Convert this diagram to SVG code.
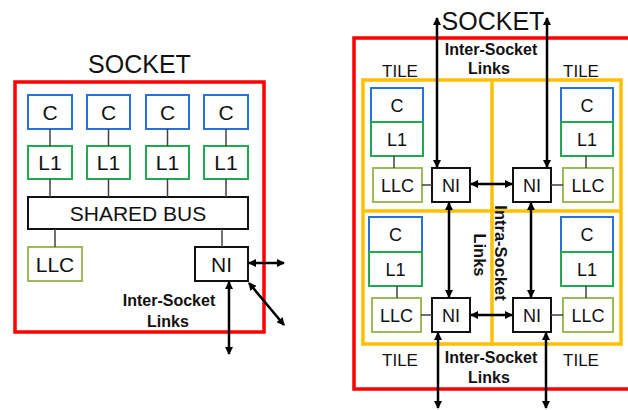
<svg xmlns="http://www.w3.org/2000/svg" width="628" height="410" viewBox="0 0 628 410">
<style>
text{font-family:"Liberation Sans",Arial,sans-serif;fill:#111;text-anchor:middle}
.title{font-size:25px}
.lbl{font-size:21px}
.lbs{font-size:18px}
.bold{font-size:16px;font-weight:bold}
.tile{font-size:17px}
.sock{fill:none;stroke:#FF0000;stroke-width:3.5}
.cb{fill:#fff;stroke:#2573D8;stroke-width:2}
.l1{fill:#fff;stroke:#22A84F;stroke-width:2}
.llc{fill:#fff;stroke:#9BBB59;stroke-width:2}
.ni{fill:#fff;stroke:#111;stroke-width:2}
.bus{fill:#fff;stroke:#111;stroke-width:2}
.yel{fill:none;stroke:#FFC000;stroke-width:3.5}
.wire{stroke:#404040;stroke-width:1.5;fill:none}
.arr{stroke:#000;stroke-width:2.5;fill:none;marker-start:url(#ah);marker-end:url(#ah)}
</style>
<defs>
<marker id="ah" markerWidth="8" markerHeight="8" refX="7" refY="4" orient="auto-start-reverse" markerUnits="userSpaceOnUse"><path d="M0,0 L8,4 L0,8 z" fill="#000"/></marker>
</defs>
<rect width="628" height="410" fill="#fff"/>

<!-- LEFT SOCKET -->
<g id="left-socket">
<rect class="sock" x="15" y="82" width="249" height="250"/>
<text class="title" x="139.5" y="73">SOCKET</text>
</g>
<g id="l-c1"><rect class="cb" x="28" y="95" width="44" height="34"/><text class="lbl" x="50" y="119.5">C</text></g>
<g id="l-c2"><rect class="cb" x="87" y="95" width="43" height="34"/><text class="lbl" x="108.5" y="119.5">C</text></g>
<g id="l-c3"><rect class="cb" x="146" y="95" width="43" height="34"/><text class="lbl" x="167.5" y="119.5">C</text></g>
<g id="l-c4"><rect class="cb" x="204" y="95" width="44" height="34"/><text class="lbl" x="226" y="119.5">C</text></g>
<g id="l-l1a"><rect class="l1" x="28" y="146" width="44" height="33"/><text class="lbl" x="50" y="170">L1</text></g>
<g id="l-l1b"><rect class="l1" x="87" y="146" width="43" height="33"/><text class="lbl" x="108.5" y="170">L1</text></g>
<g id="l-l1c"><rect class="l1" x="146" y="146" width="43" height="33"/><text class="lbl" x="167.5" y="170">L1</text></g>
<g id="l-l1d"><rect class="l1" x="204" y="146" width="44" height="33"/><text class="lbl" x="226" y="170">L1</text></g>
<g id="l-bus"><rect class="bus" x="28" y="197" width="220" height="32"/><text class="lbl" x="138" y="220.5">SHARED BUS</text></g>
<g id="l-llc"><rect class="llc" x="28" y="247" width="54" height="34"/><text class="lbl" x="55" y="271.5">LLC</text></g>
<g id="l-ni"><rect class="ni" x="195" y="247" width="53" height="34"/><text class="lbl" x="221.5" y="271.5">NI</text></g>
<g id="l-links-label">
<text class="bold" x="169" y="306">Inter-Socket</text>
<text class="bold" x="168" y="327">Links</text>
</g>

<!-- RIGHT SOCKET -->
<g id="right-socket">
<rect class="sock" x="354" y="38" width="300" height="351"/>
<text class="title" x="493" y="30">SOCKET</text>
</g>
<g id="tiles">
<rect class="yel" x="363" y="80" width="258" height="264"/>
<line class="yel" x1="492" y1="80" x2="492" y2="344"/>
<line class="yel" x1="363" y1="211" x2="621" y2="211"/>
<text class="tile" x="400" y="77">TILE</text>
<text class="tile" x="581" y="77">TILE</text>
<text class="tile" x="400" y="366">TILE</text>
<text class="tile" x="581" y="366">TILE</text>
</g>
<g id="r-top-links-label">
<text class="bold" x="491" y="55">Inter-Socket</text>
<text class="bold" x="489" y="74">Links</text>
</g>
<g id="r-bot-links-label">
<text class="bold" x="491" y="363">Inter-Socket</text>
<text class="bold" x="489" y="383">Links</text>
</g>
<g id="r-intra-label">
<text class="bold" style="font-size:16.5px" transform="translate(495,253) rotate(90)">Intra-Socket</text>
<text class="bold" style="font-size:16.5px" transform="translate(474,255) rotate(90)">Links</text>
</g>

<!-- tile TL -->
<g id="tl-c"><rect class="cb" x="371" y="88" width="52" height="34"/><text class="lbs" x="397" y="111.5">C</text></g>
<g id="tl-l1"><rect class="l1" x="371" y="122" width="52" height="34"/><text class="lbs" x="397" y="145.5">L1</text></g>
<g id="tl-llc"><rect class="llc" x="373" y="168" width="49" height="34"/><text class="lbs" x="397.5" y="191.5">LLC</text></g>
<g id="tl-ni"><rect class="ni" x="432" y="168" width="38" height="34"/><text class="lbs" x="451" y="191.5">NI</text></g>
<!-- tile TR -->
<g id="tr-c"><rect class="cb" x="561" y="88" width="52" height="34"/><text class="lbs" x="587" y="111.5">C</text></g>
<g id="tr-l1"><rect class="l1" x="561" y="122" width="52" height="34"/><text class="lbs" x="587" y="145.5">L1</text></g>
<g id="tr-llc"><rect class="llc" x="563" y="168" width="50" height="34"/><text class="lbs" x="588" y="191.5">LLC</text></g>
<g id="tr-ni"><rect class="ni" x="513" y="168" width="38" height="34"/><text class="lbs" x="532" y="191.5">NI</text></g>
<!-- tile BL -->
<g id="bl-c"><rect class="cb" x="369" y="217" width="53" height="35"/><text class="lbs" x="395.5" y="241">C</text></g>
<g id="bl-l1"><rect class="l1" x="369" y="252" width="53" height="34"/><text class="lbs" x="395.5" y="275.5">L1</text></g>
<g id="bl-llc"><rect class="llc" x="372" y="298" width="49" height="34"/><text class="lbs" x="396.5" y="321.5">LLC</text></g>
<g id="bl-ni"><rect class="ni" x="432" y="298" width="38" height="34"/><text class="lbs" x="451" y="321.5">NI</text></g>
<!-- tile BR -->
<g id="br-c"><rect class="cb" x="561" y="217" width="52" height="35"/><text class="lbs" x="587" y="241">C</text></g>
<g id="br-l1"><rect class="l1" x="561" y="252" width="52" height="34"/><text class="lbs" x="587" y="275.5">L1</text></g>
<g id="br-llc"><rect class="llc" x="563" y="298" width="50" height="34"/><text class="lbs" x="588" y="321.5">LLC</text></g>
<g id="br-ni"><rect class="ni" x="513" y="298" width="38" height="34"/><text class="lbs" x="532" y="321.5">NI</text></g>

<g id="connectors">
<!-- left socket wires -->
<line class="wire" x1="50" y1="129" x2="50" y2="146"/>
<line class="wire" x1="108.5" y1="129" x2="108.5" y2="146"/>
<line class="wire" x1="167.5" y1="129" x2="167.5" y2="146"/>
<line class="wire" x1="226" y1="129" x2="226" y2="146"/>
<line class="wire" x1="50" y1="179" x2="50" y2="197"/>
<line class="wire" x1="108.5" y1="179" x2="108.5" y2="197"/>
<line class="wire" x1="167.5" y1="179" x2="167.5" y2="197"/>
<line class="wire" x1="226" y1="179" x2="226" y2="197"/>
<line class="wire" x1="55" y1="229" x2="55" y2="247"/>
<line class="wire" x1="222" y1="229" x2="222" y2="247"/>
<!-- left socket links -->
<line class="arr" x1="249" y1="263" x2="284" y2="263"/>
<line class="arr" x1="249" y1="283" x2="284" y2="325"/>
<line class="arr" x1="229" y1="282" x2="229" y2="354"/>
<!-- right socket wires -->
<line class="wire" x1="394" y1="156" x2="394" y2="168"/>
<line class="wire" x1="586" y1="156" x2="586" y2="168"/>
<line class="wire" x1="397" y1="286" x2="397" y2="298"/>
<line class="wire" x1="586" y1="286" x2="586" y2="298"/>
<line class="wire" x1="422" y1="185" x2="432" y2="185"/>
<line class="wire" x1="551" y1="185" x2="563" y2="185"/>
<line class="wire" x1="421" y1="315" x2="432" y2="315"/>
<line class="wire" x1="551" y1="315" x2="563" y2="315"/>
<!-- right socket links -->
<line class="arr" x1="437" y1="18" x2="437" y2="167"/>
<line class="arr" x1="547" y1="18" x2="547" y2="167"/>
<line class="arr" x1="471" y1="184" x2="512" y2="184"/>
<line class="arr" x1="449" y1="203" x2="449" y2="297"/>
<line class="arr" x1="531" y1="203" x2="531" y2="297"/>
<line class="arr" x1="471" y1="315" x2="512" y2="315"/>
<line class="arr" x1="438" y1="333" x2="438" y2="408"/>
<line class="arr" x1="546" y1="333" x2="546" y2="408"/>
</g>
</svg>
